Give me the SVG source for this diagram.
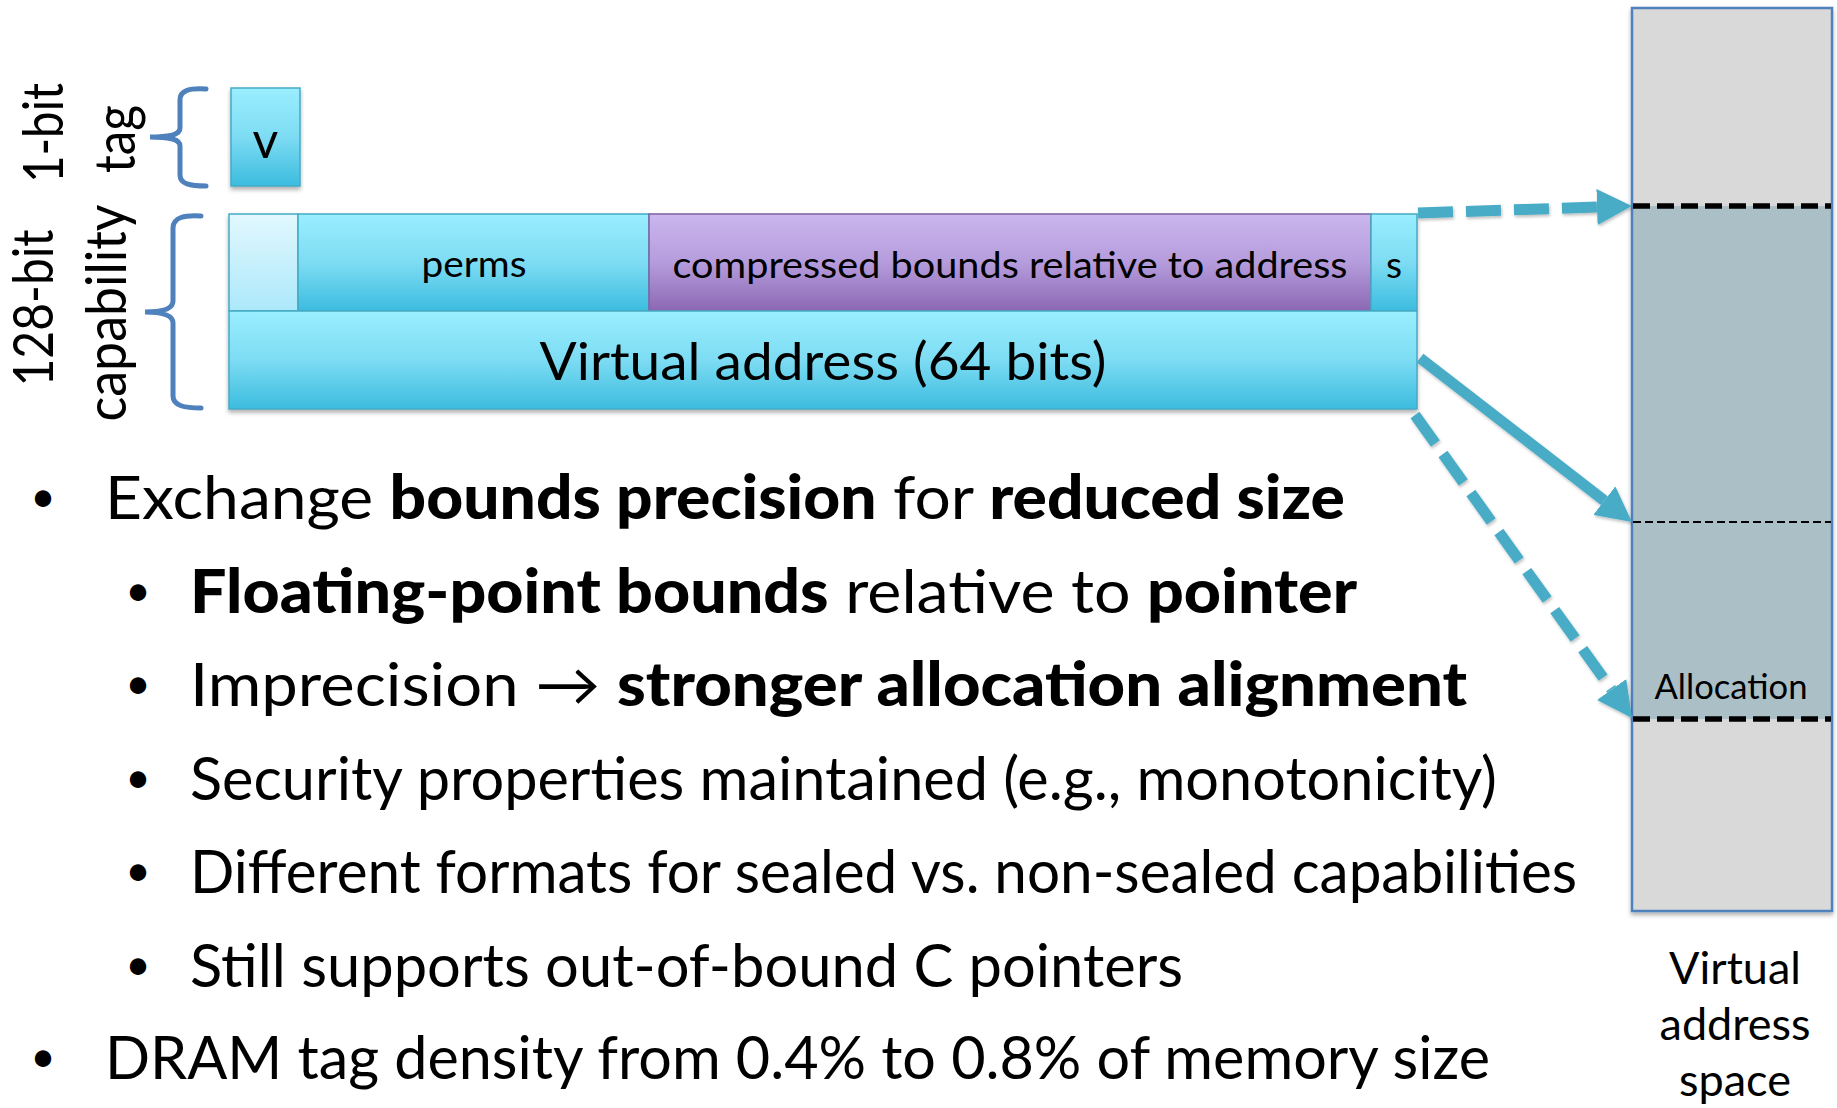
<svg xmlns="http://www.w3.org/2000/svg" width="1837" height="1108" viewBox="0 0 1837 1108">
  <defs>
    <linearGradient id="cyan" x1="0" y1="0" x2="0" y2="1">
      <stop offset="0" stop-color="#9aeeff"/>
      <stop offset="0.5" stop-color="#7ddcf3"/>
      <stop offset="1" stop-color="#3cbcdf"/>
    </linearGradient>
    <linearGradient id="pale" x1="0" y1="0" x2="0" y2="1">
      <stop offset="0" stop-color="#e2f8fe"/>
      <stop offset="1" stop-color="#ace8fa"/>
    </linearGradient>
    <linearGradient id="violet" x1="0" y1="0" x2="0" y2="1">
      <stop offset="0" stop-color="#cbb6ee"/>
      <stop offset="0.5" stop-color="#b59cdc"/>
      <stop offset="1" stop-color="#8b68b3"/>
    </linearGradient>
    <filter id="shadow" x="-5%" y="-10%" width="110%" height="130%">
      <feDropShadow dx="0" dy="3" stdDeviation="2" flood-color="#000" flood-opacity="0.3"/>
    </filter>
    <filter id="lineShadow" x="-10%" y="-10%" width="120%" height="120%">
      <feDropShadow dx="1" dy="2" stdDeviation="1.5" flood-color="#000" flood-opacity="0.25"/>
    </filter>
    <marker id="head" markerUnits="userSpaceOnUse" viewBox="0 0 35 36" markerWidth="35" markerHeight="36" refX="0" refY="18" orient="auto">
      <path d="M0,0 L35,18 L0,36 z" fill="#4aacc6"/>
    </marker>
  </defs>
  <style>
    text { font-family: Lato, "Liberation Sans", sans-serif; fill: #000; }
    .side { font-size: 56px; text-anchor: middle; }
    .cell { stroke: #46aac4; stroke-width: 1.5; }
    .brace { fill: none; stroke: #4f81bd; stroke-width: 5; stroke-linecap: round; }
    .field { font-size: 37px; text-anchor: middle; }
    .main { font-size: 60px; }
    .dot { font-size: 44px; text-anchor: middle; }
    .b { font-weight: 900; }
    .arrow { fill: none; stroke: #4aacc6; stroke-width: 11; marker-end: url(#head); }
    .dash { stroke-dasharray: 35 13; }
    .bound { fill: none; stroke: #000; }
    .caption { font-size: 45px; text-anchor: middle; }
  </style>

  <!-- rotated side labels -->
  <g id="label-tag">
    <text class="side" transform="translate(63,133) rotate(-90)" textLength="100" lengthAdjust="spacingAndGlyphs">1-bit</text>
    <text class="side" transform="translate(135,139) rotate(-90)" textLength="68" lengthAdjust="spacingAndGlyphs">tag</text>
  </g>
  <g id="label-capability">
    <text class="side" transform="translate(53,308) rotate(-90)" textLength="157" lengthAdjust="spacingAndGlyphs">128-bit</text>
    <text class="side" transform="translate(126,313) rotate(-90)" textLength="217" lengthAdjust="spacingAndGlyphs">capability</text>
  </g>

  <!-- braces -->
  <g id="brace-tag">
    <path class="brace" d="M206,89 C190,88 180,90 180,100 L180,128 C180,134 172,137 150,137 C172,137 180,140 180,146 L180,175 C180,184 190,186 206,186"/>
  </g>
  <g id="brace-capability">
    <path class="brace" d="M201,216 C185,215 173,217 173,228 L173,301 C173,308 165,312 145,312 C165,312 173,316 173,323 L173,396 C173,406 185,408 201,408"/>
  </g>

  <!-- tag bit -->
  <g id="tag-bit" filter="url(#shadow)">
    <rect class="cell" x="231" y="88" width="69" height="98" fill="url(#cyan)"/>
    <text x="265.5" y="158" font-size="50" text-anchor="middle">v</text>
  </g>

  <!-- capability word -->
  <g id="capability" filter="url(#shadow)">
    <rect class="cell" x="229" y="214" width="69" height="97" fill="url(#pale)"/>
    <rect class="cell" x="298" y="214" width="351" height="97" fill="url(#cyan)"/>
    <rect x="649" y="214" width="722" height="97" fill="url(#violet)" stroke="#7e62a1" stroke-width="1.5"/>
    <rect class="cell" x="1371" y="214" width="46" height="97" fill="url(#cyan)"/>
    <rect class="cell" x="229" y="311" width="1188" height="98" fill="url(#cyan)"/>
  </g>
  <g id="capability-fields">
    <text class="field" x="474" y="277" textLength="105" lengthAdjust="spacingAndGlyphs">perms</text>
    <text class="field" x="1010" y="278" textLength="675" lengthAdjust="spacingAndGlyphs">compressed bounds relative to address</text>
    <text class="field" x="1394" y="278">s</text>
    <text x="823" y="380" font-size="53" text-anchor="middle" textLength="567" lengthAdjust="spacingAndGlyphs">Virtual address (64 bits)</text>
  </g>

  <!-- virtual address space column -->
  <g id="address-space" filter="url(#shadow)">
    <rect x="1632" y="8" width="200" height="903" fill="#d9d9d9"/>
    <rect x="1632" y="206" width="200" height="513" fill="#aabfc6"/>
    <rect x="1632" y="8" width="200" height="903" fill="none" stroke="#4f81bd" stroke-width="2.5"/>
  </g>
  <g id="bounds">
    <line class="bound" x1="1633" y1="206" x2="1831" y2="206" stroke-width="5.5" stroke-dasharray="17 7"/>
    <line class="bound" x1="1633" y1="522" x2="1831" y2="522" stroke-width="2" stroke-dasharray="8 4"/>
    <line class="bound" x1="1633" y1="719" x2="1831" y2="719" stroke-width="5.5" stroke-dasharray="17 7"/>
    <text x="1731" y="699" font-size="34" text-anchor="middle" textLength="153" lengthAdjust="spacingAndGlyphs">Allocation</text>
  </g>
  <g id="address-space-caption">
    <text class="caption" x="1735" y="984">Virtual</text>
    <text class="caption" x="1735" y="1040">address</text>
    <text class="caption" x="1735" y="1096">space</text>
  </g>

  <!-- connectors -->
  <g id="connectors" filter="url(#lineShadow)">
    <line class="arrow dash" x1="1418" y1="213" x2="1597" y2="207.1"/>
    <line class="arrow" x1="1420" y1="358" x2="1604.3" y2="500.6"/>
    <line class="arrow dash" x1="1415" y1="415" x2="1611.6" y2="689.5"/>
  </g>

  <!-- bullet list -->
  <g id="bullets">
    <text class="dot" x="43" y="512">•</text>
    <text class="main" x="105" y="519" textLength="1240" lengthAdjust="spacingAndGlyphs">Exchange <tspan class="b">bounds precision</tspan> for <tspan class="b">reduced size</tspan></text>

    <text class="dot" x="138" y="606">•</text>
    <text class="main" x="190" y="613" textLength="1167" lengthAdjust="spacingAndGlyphs"><tspan class="b">Floating-point bounds</tspan> relative to <tspan class="b">pointer</tspan></text>

    <text class="dot" x="138" y="699">•</text>
    <text class="main" x="190" y="706" textLength="1277" lengthAdjust="spacingAndGlyphs">Imprecision → <tspan class="b">stronger allocation alignment</tspan></text>

    <text class="dot" x="138" y="793">•</text>
    <text class="main" x="190" y="800" textLength="1307" lengthAdjust="spacingAndGlyphs">Security properties maintained (e.g., monotonicity)</text>

    <text class="dot" x="138" y="886">•</text>
    <text class="main" x="190" y="893" textLength="1387" lengthAdjust="spacingAndGlyphs">Different formats for sealed vs. non-sealed capabilities</text>

    <text class="dot" x="138" y="980">•</text>
    <text class="main" x="190" y="987" textLength="993" lengthAdjust="spacingAndGlyphs">Still supports out-of-bound C pointers</text>

    <text class="dot" x="43" y="1072">•</text>
    <text class="main" x="105" y="1079" textLength="1385" lengthAdjust="spacingAndGlyphs">DRAM tag density from 0.4% to 0.8% of memory size</text>
  </g>
</svg>
